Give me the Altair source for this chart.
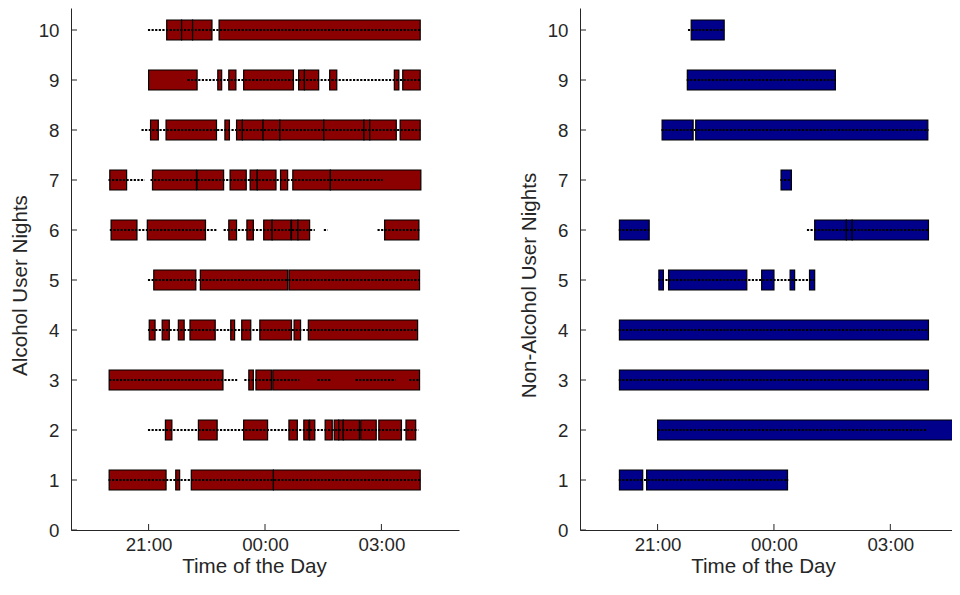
import altair as alt
import pandas as pd

# ---------------- data ----------------
# Alcohol user nights: coloured segments
alc_night = [10, 10, 10, 10,
             9, 9, 9, 9, 9, 9, 9, 9, 9,
             8, 8, 8, 8, 8, 8, 8, 8, 8, 8, 8,
             7, 7, 7, 7, 7, 7, 7, 7, 7,
             6, 6, 6, 6, 6, 6, 6, 6, 6,
             5, 5, 5,
             4, 4, 4, 4, 4, 4, 4, 4, 4,
             3, 3, 3, 3,
             2, 2, 2, 2, 2, 2, 2, 2, 2, 2, 2, 2, 2,
             1, 1, 1, 1]
alc_start = ["21:28", "21:51", "22:08", "22:49",
             "21:00", "22:47", "23:04", "23:27", "00:52", "01:01", "01:40", "03:20", "03:33",
             "21:03", "21:27", "22:58", "23:16", "23:25", "23:57", "00:23", "01:31", "02:33", "02:42", "03:29",
             "20:00", "21:06", "22:15", "23:06", "23:37", "23:48", "00:24", "00:43", "01:41",
             "20:02", "20:58", "23:04", "23:32", "23:58", "00:11", "00:41", "00:51", "03:05",
             "21:08", "22:20", "00:37",
             "21:01", "21:21", "21:46", "22:04", "23:07", "23:24", "23:52", "00:45", "01:07",
             "19:59", "23:35", "23:46", "00:12",
             "21:26", "22:17", "23:27", "00:37", "01:00", "01:09", "01:33", "01:47", "01:54", "02:01", "02:28", "02:56", "03:38",
             "19:59", "21:42", "22:06", "00:13"]
alc_end = ["21:51", "22:08", "22:38", "04:00",
           "22:15", "22:53", "23:15", "00:44", "01:01", "01:23", "01:51", "03:27", "04:00",
           "21:15", "22:45", "23:05", "23:25", "23:57", "00:23", "01:31", "02:33", "02:42", "03:23", "04:00",
           "20:26", "22:14", "22:56", "23:31", "23:48", "00:17", "00:35", "01:41", "04:01",
           "20:42", "22:28", "23:16", "23:42", "00:11", "00:40", "00:51", "01:09", "03:58",
           "22:13", "00:35", "03:59",
           "21:10", "21:32", "21:55", "22:43", "23:13", "23:38", "00:41", "00:55", "03:56",
           "22:55", "23:42", "00:10", "03:59",
           "21:36", "22:46", "00:04", "00:50", "01:08", "01:17", "01:44", "01:54", "02:01", "02:26", "02:52", "03:31", "03:53",
           "21:27", "21:48", "00:13", "04:00"]

# Alcohol user nights: dotted sample runs
alc_dot_night = [10, 9, 8, 7, 7, 6, 6, 6, 6, 5, 4, 3, 3, 3, 3, 3, 2, 1]
alc_dot_start = ["20:59", "22:00", "20:49", "19:58", "21:03", "20:00", "22:56", "01:31", "02:54",
                 "20:59", "20:59", "19:59", "23:28", "01:21", "02:20", "03:43", "20:59", "19:58"]
alc_dot_end = ["04:00", "04:00", "04:00", "20:54", "03:02", "22:46", "01:17", "01:37", "03:59",
               "03:59", "03:56", "23:17", "00:53", "01:41", "03:22", "03:59", "03:57", "04:00"]

# Non-alcohol user nights: coloured segments
non_night = [10, 9, 8, 8, 7, 6, 6, 6, 6, 5, 5, 5, 5, 5, 4, 3, 2, 1, 1]
non_start = ["21:52", "21:46", "21:07", "21:59", "00:11", "20:01", "01:03", "01:52", "02:01",
             "21:02", "21:17", "23:41", "00:25", "00:55", "20:01", "20:01", "21:00", "20:01", "20:43"]
non_end = ["22:43", "01:35", "21:55", "03:58", "00:27", "20:47", "01:52", "02:01", "03:59",
           "21:09", "23:18", "00:00", "00:32", "01:03", "03:59", "03:59", "05:00", "20:37", "00:21"]

# Non-alcohol user nights: dotted sample runs
non_dot_night = [10, 9, 8, 7, 6, 6, 5, 4, 3, 2, 1]
non_dot_start = ["21:47", "21:45", "21:06", "00:10", "20:00", "00:51", "21:01", "20:00", "20:00", "21:00", "20:00"]
non_dot_end = ["22:43", "01:36", "03:59", "00:27", "20:47", "03:59", "01:03", "03:59", "03:59", "03:56", "00:22"]

y_ticks = [0, 1, 2, 3, 4, 5, 6, 7, 8, 9, 10]
x_tick_hours = [21, 24, 27]
x_tick_labels = ["21:00", "00:00", "03:00"]

# ---------------- helpers ----------------
def to_hours(s):
    h, m = map(int, s.split(":"))
    v = h + m / 60.0
    return v + 24 if h < 12 else v


def seg_df(nights, starts, ends):
    return pd.DataFrame({"night": nights,
                         "start": [to_hours(s) for s in starts],
                         "end": [to_hours(e) for e in ends]})


AX = "#262626"
FONT = "Liberation Sans"
H = 522
PX_PER_HOUR = 38.8
YDOM = [0, 10.44]
HALF = 0.2

label_expr = " : ".join(
    [f"datum.value == {v} ? '{l}'" for v, l in zip(x_tick_hours, x_tick_labels)]) + " : ''"

ytick_df = pd.DataFrame({"night": y_ticks})
xtick_df = pd.DataFrame({"start": x_tick_hours})


def panel(bars_df, dots_df, color, ytitle, xdom):
    W = round((xdom[1] - xdom[0]) * PX_PER_HOUR)
    xscale = alt.Scale(domain=xdom, nice=False, zero=False)
    yscale = alt.Scale(domain=YDOM, nice=False, zero=False)
    xaxis = alt.Axis(values=x_tick_hours, labelExpr=label_expr, ticks=False,
                     labelPadding=5, titlePadding=3, labelFlush=False, titleX=183)
    yaxis = alt.Axis(values=y_ticks, ticks=False, labelPadding=12, titlePadding=8,
                     titleY=H / 2 + 16)

    bars = alt.Chart(bars_df).transform_calculate(
        y0=f"datum.night - {HALF}", y1=f"datum.night + {HALF}"
    ).mark_rect(fill=color, stroke="black", strokeWidth=1.2, clip=True).encode(
        x=alt.X("start:Q", scale=xscale, axis=xaxis, title="Time of the Day"),
        x2="end:Q",
        y=alt.Y("y0:Q", scale=yscale, axis=yaxis, title=ytitle),
        y2="y1:Q",
    )
    dots = alt.Chart(dots_df).mark_rule(color="black", strokeWidth=2.2,
                                        strokeDash=[2.2, 1.4], clip=True).encode(
        x=alt.X("start:Q", title="Time of the Day"),
        x2="end:Q",
        y=alt.Y("night:Q", title=ytitle),
    )
    yt = alt.Chart(ytick_df).mark_rule(color=AX, strokeWidth=1).encode(
        y=alt.Y("night:Q", title=ytitle), x=alt.value(0), x2=alt.value(6))
    xt = alt.Chart(xtick_df).mark_rule(color=AX, strokeWidth=1).encode(
        x=alt.X("start:Q", title="Time of the Day"), y=alt.value(H), y2=alt.value(H - 6))
    return alt.layer(bars, dots, yt, xt).properties(width=W, height=H)


left = panel(seg_df(alc_night, alc_start, alc_end),
             seg_df(alc_dot_night, alc_dot_start, alc_dot_end),
             "#8B0000", "Alcohol User Nights", [19, 29])
right = panel(seg_df(non_night, non_start, non_end),
              seg_df(non_dot_night, non_dot_start, non_dot_end),
              "#00008B", "Non-Alcohol User Nights", [19, 28.59])

chart = alt.hconcat(left, right, spacing=121, bounds="flush").properties(
    padding={"left": 2, "top": 0, "right": 0, "bottom": 0}
).configure_view(stroke=None).configure_axis(
    grid=False,
    domainColor=AX, domainWidth=1,
    labelFont=FONT, titleFont=FONT,
    labelFontSize=18.7, titleFontSize=20.6,
    labelColor=AX, titleColor=AX,
    titleFontWeight="normal",
)

chart.save("out.html", embed_options={"renderer": "svg", "actions": False})
